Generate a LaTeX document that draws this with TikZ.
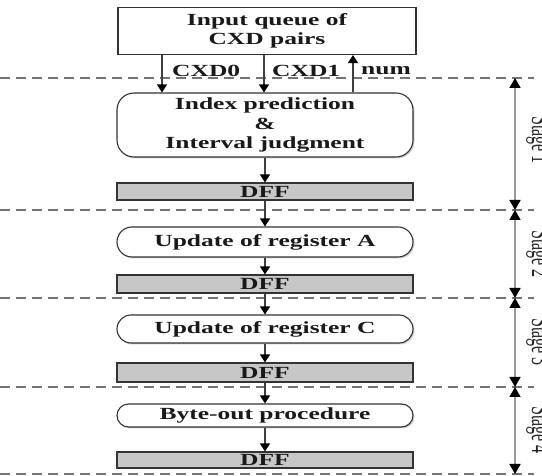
\documentclass[tikz,border=0pt]{standalone}
\usepackage{fontspec}
\setmainfont{Liberation Serif}[FakeStretch=1.5]
\newfontfamily\stagefont{Liberation Serif}
\usetikzlibrary{arrows.meta,shadows}
\begin{document}
\begin{tikzpicture}[x=1pt,y=-1pt,
  txt/.style={font=\bfseries\fontsize{17}{19.5}\selectfont, text=black!90, align=center, inner sep=0pt},
  plainbox/.style={txt, draw=black!80, line width=1.1pt, fill=white, minimum width=298pt},
  procbox/.style={txt, draw=black!80, line width=1.1pt, fill=white, minimum width=296pt,
     drop shadow={shadow xshift=1.5pt, shadow yshift=-1.5pt, fill=black!35}},
  dffbox/.style={txt, draw=black!80, line width=1.1pt, fill=black!22, minimum width=296pt},
  flow/.style={draw=black!75, line width=1.3pt, -{Triangle[width=10pt,length=8pt,black]}},
  stagearr/.style={draw=black!40, line width=1.5pt, {Triangle[width=11pt,length=10pt,black]}-{Triangle[width=11pt,length=10pt,black]}},
  sep/.style={draw=black!55, line width=1.1pt, dash pattern=on 10pt off 6pt},
  lbl/.style={font=\bfseries\fontsize{17}{17}\selectfont, text=black!90, inner sep=0pt, anchor=west},
  stg/.style={rotate=-90, anchor=base, inner sep=0pt, text=black!85}]
\clip (0,0) rectangle (542,476);
\useasboundingbox (0,0) rectangle (542,476);
% separators
\foreach \yy/\nm in {78/s0,210/s1,298/s2,387/s3,474/s4}{
  \draw[sep] (0,\yy) -- (534,\yy);
  \coordinate (\nm) at (515,\yy);
}
% nodes
\node[plainbox, minimum height=47pt] (queue) at (267,31) {Input queue of\\CXD pairs};
\node[procbox, rounded corners=17pt, minimum height=64pt] (index) at (265,125) {Index prediction\\\&\\Interval judgment};
\node[dffbox, minimum height=17pt] (dff1) at (265,191.5) {DFF};
\node[procbox, rounded corners=15pt, minimum height=30pt] (upa) at (265,242) {Update of register A};
\node[dffbox, minimum height=18pt] (dff2) at (265,284) {DFF};
\node[procbox, rounded corners=14pt, minimum height=28pt] (upc) at (265,329) {Update of register C};
\node[dffbox, minimum height=19pt] (dff3) at (265,372.5) {DFF};
\node[procbox, rounded corners=11.5pt, minimum height=23pt] (byte) at (265,415.5) {Byte-out procedure};
\node[dffbox, minimum height=16pt] (dff4) at (265,460) {DFF};
% input arrows
\draw[flow] (queue.south -| 162,0) -- (index.north -| 162,0);
\draw[flow] (queue.south -| 264,0) -- (index.north -| 264,0);
\draw[flow] (index.north -| 353,0) -- (queue.south -| 353,0);
\node[lbl] (l0) at (172,71) {CXD0};
\node[lbl] (l1) at (272,71) {CXD1};
\node[lbl] (l2) at (361,71) {num};
% flow arrows
\draw[flow] (index) -- (dff1);
\draw[flow] (dff1) -- (upa);
\draw[flow] (upa) -- (dff2);
\draw[flow] (dff2) -- (upc);
\draw[flow] (upc) -- (dff3);
\draw[flow] (dff3) -- (byte);
\draw[flow] (byte) -- (dff4);
% stage arrows
\draw[stagearr] (s0) -- (s1);
\draw[stagearr] (s1) -- (s2);
\draw[stagearr] (s2) -- (s3);
\draw[stagearr] (s3) -- (s4);
\node[stg] (st1) at (532,140) {\stagefont\fontsize{16}{16}\selectfont\scalebox{1}[1.7]{Stage 1}};
\node[stg] (st2) at (532,254) {\stagefont\fontsize{16}{16}\selectfont\scalebox{1}[1.7]{Stage 2}};
\node[stg] (st3) at (532,342) {\stagefont\fontsize{16}{16}\selectfont\scalebox{1}[1.7]{Stage 3}};
\node[stg] (st4) at (532,430) {\stagefont\fontsize{16}{16}\selectfont\scalebox{1}[1.7]{Stage 4}};
\end{tikzpicture}
\end{document}
